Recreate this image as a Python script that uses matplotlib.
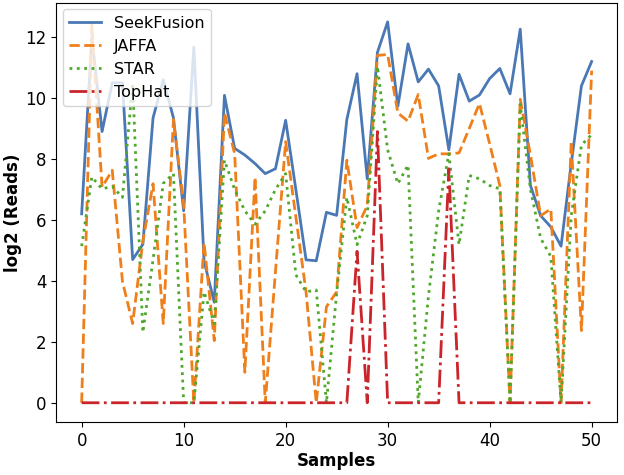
import matplotlib
matplotlib.use("Agg")
import matplotlib.pyplot as plt
import numpy as np

samples = list(range(51))

seekfusion = [6.2, 12.0, 8.9, 10.5, 10.5, 4.7, 5.2, 9.35, 10.6, 9.35,
              6.3, 11.67, 4.65, 3.3, 10.09, 8.35, 8.13, 7.85, 7.52, 7.68,
              9.27, 7.0, 4.69, 4.66, 6.25, 6.15, 9.3, 10.8, 7.35, 11.5,
              12.5, 9.73, 11.78, 10.53, 10.95, 10.4, 8.3, 10.78, 9.9, 10.1,
              10.64, 10.97, 10.14, 12.26, 7.13, 6.14, 5.77, 5.14, 7.85, 10.4,
              11.2]

jaffa = [0.0, 12.4, 7.08, 7.63, 3.98, 2.6, 5.3, 7.19, 2.6, 9.3,
         6.5, 0.0, 5.25, 2.04, 9.51, 8.18, 1.0, 7.4, 0.0, 4.3,
         8.57, 6.1, 3.64, 0.0, 3.15, 3.64, 7.96, 5.75, 6.47, 11.4,
         11.43, 9.51, 9.24, 10.12, 8.02, 8.17, 8.17, 8.2, 9.0, 9.82,
         8.5, 7.13, 0.0, 9.96, 8.13, 6.14, 6.36, 0.0, 8.57, 2.37,
         10.9]

star = [5.14, 7.41, 7.02, 7.1, 6.74, 10.5, 2.31, 4.7, 7.2, 7.52,
        0.0, 0.0, 3.64, 2.6, 7.96, 7.0, 6.3, 5.86, 6.3, 7.0,
        7.52, 4.2, 3.64, 3.7, 0.0, 3.6, 6.74, 5.19, 6.14, 11.04,
        8.3, 7.19, 7.8, 0.0, 3.5, 6.3, 8.17, 5.19, 7.46, 7.35,
        7.13, 7.02, 0.0, 9.8, 7.0, 5.4, 4.8, 0.0, 6.14, 8.46,
        8.8]

tophat = [0.0] * 51
tophat[27] = 4.97
tophat[29] = 8.9
tophat[36] = 7.68

fig, ax = plt.subplots(figsize=(6.24, 4.75), dpi=100)
ax.plot(samples, seekfusion, '-', color='#4a78b5', lw=2, label='SeekFusion')
ax.plot(samples, jaffa, '--', color='#ef7f1a', lw=2, label='JAFFA')
ax.plot(samples, star, ':', color='#4fa82c', lw=2, label='STAR')
ax.plot(samples, tophat, '-.', color='#c9252b', lw=2, label='TopHat')

ax.set_xlabel('Samples', fontsize=12, fontweight='bold', labelpad=2)
ax.set_ylabel('log2 (Reads)', fontsize=12, fontweight='bold', labelpad=2)
ax.tick_params(labelsize=12)
ax.set_xticks([0, 10, 20, 30, 40, 50])
ax.set_yticks([0, 2, 4, 6, 8, 10, 12])
ax.legend(loc='upper left', fontsize=11.5, labelspacing=0.5, borderaxespad=0.4)
fig.subplots_adjust(left=0.09, right=0.989, top=0.994, bottom=0.112)
fig.savefig('out.png', dpi=100)
